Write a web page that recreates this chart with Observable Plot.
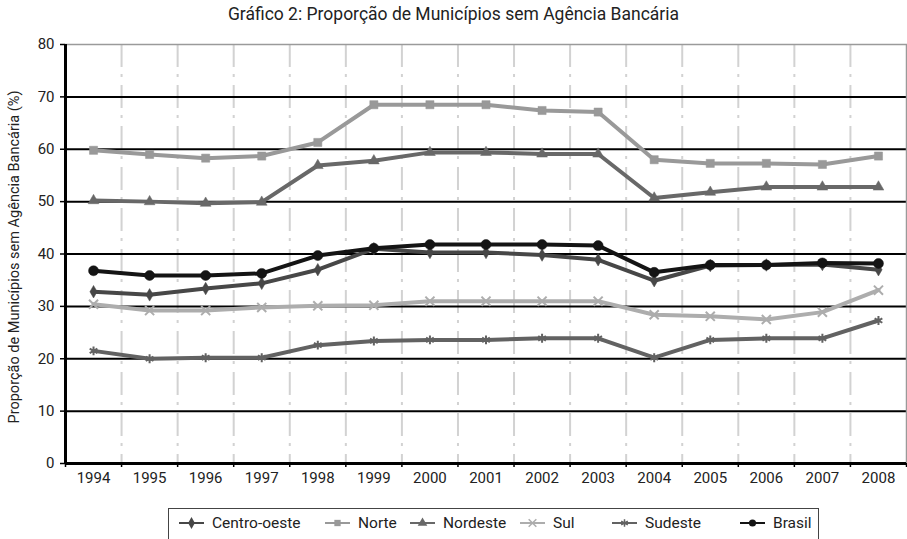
<!DOCTYPE html>
<html>
<head>
<meta charset="utf-8">
<script src="https://cdn.jsdelivr.net/npm/d3@7"></script>
<script src="https://cdn.jsdelivr.net/npm/@observablehq/plot@0.6"></script>
<style>
  html, body { margin: 0; padding: 0; background: #fff; }
  body { width: 907px; height: 539px; position: relative; overflow: hidden; font-family: Roboto, "Liberation Sans", sans-serif; color: #222; }
  #chart { position: absolute; left: 0; top: 0; z-index: 0; }
  #title { position: absolute; left: 0; top: 4px; width: 907px; text-align: center; font-size: 17.5px; color: #222; z-index: 2; }
  #ylabel { position: absolute; left: 14px; top: 257px; transform: translate(-50%, -50%) rotate(-90deg); white-space: nowrap; font-size: 14.5px; color: #222; z-index: 2; }
  #legend { position: absolute; left: 168px; top: 508px; width: 651px; height: 40px; border: 1.5px solid #444; border-bottom: none; box-sizing: border-box; z-index: 2; background: #fff; }
  .item { position: absolute; top: 5px; display: flex; align-items: center; font-size: 15.5px; color: #222; }
  .item svg { margin-right: 8px; }
</style>
</head>
<body>
<div id="chart"></div>
<div id="title">Gráfico 2: Proporção de Municípios sem Agência Bancária</div>
<div id="ylabel">Proporção de Municípios sem Agência Bancária (%)</div>
<div id="legend"></div>
<script>
const years = [1994, 1995, 1996, 1997, 1998, 1999, 2000, 2001, 2002, 2003, 2004, 2005, 2006, 2007, 2008];
const seriesNames = ["Centro-oeste", "Norte", "Nordeste", "Sul", "Sudeste", "Brasil"];
const centroOeste = [32.8, 32.2, 33.4, 34.4, 37.0, 41.0, 40.3, 40.3, 39.8, 38.9, 34.9, 37.8, 37.9, 38.0, 37.0];
const norte = [59.8, 59.0, 58.3, 58.7, 61.3, 68.5, 68.5, 68.5, 67.4, 67.1, 58.0, 57.3, 57.3, 57.1, 58.7];
const nordeste = [50.2, 50.0, 49.7, 49.9, 56.9, 57.8, 59.4, 59.4, 59.1, 59.1, 50.7, 51.8, 52.8, 52.8, 52.8];
const sul = [30.4, 29.2, 29.2, 29.8, 30.1, 30.2, 31.0, 31.0, 31.0, 31.0, 28.4, 28.1, 27.5, 28.9, 33.1];
const sudeste = [21.5, 20.0, 20.2, 20.2, 22.6, 23.4, 23.6, 23.6, 23.9, 23.9, 20.2, 23.6, 23.9, 23.9, 27.3];
const brasil = [36.8, 35.9, 35.9, 36.3, 39.7, 41.1, 41.8, 41.8, 41.8, 41.6, 36.5, 37.9, 37.9, 38.3, 38.2];
const yTicks = [0, 10, 20, 30, 40, 50, 60, 70, 80];

// styles
const seriesValues = [centroOeste, norte, nordeste, sul, sudeste, brasil];
const colors = ["#474747", "#999999", "#686868", "#adadad", "#626262", "#141414"];
const symbols = ["diamond", "square", "triangle", "times", "asterisk", "circle"];
const d3symbols = [d3.symbolDiamond, d3.symbolSquare, d3.symbolTriangle, d3.symbolTimes, d3.symbolAsterisk, d3.symbolCircle];
const radii = [3.8, 4.6, 4, 4.2, 4.2, 5];
const legendLeft = [10, 156, 241, 351, 443, 571];

const bounds = years.slice(0, -1).map(y => y + 0.5);
const allBounds = [years[0] - 0.5, ...bounds, years[years.length - 1] + 0.5];

const marks = [
  Plot.ruleX(bounds, {stroke: "#d2d2d2", strokeWidth: 2, strokeDasharray: "23,7,3,8"}),
  Plot.ruleY(yTicks.filter(t => t > 0 && t < 80), {stroke: "#000", strokeWidth: 2}),
  Plot.frame({stroke: "#9a9a9a", strokeWidth: 1.5}),
  Plot.axisY(yTicks, {tickSize: 5, tickPadding: 6, fontSize: 15, label: null, stroke: "#000", strokeWidth: 1.5, tickFormat: d => String(d)}),
  Plot.axisX(allBounds, {tickSize: 4, tickFormat: () => "", label: null, stroke: "#000", strokeWidth: 1.5}),
  Plot.axisX(years, {tickSize: 0, tickPadding: 9, fontSize: 15, label: null, tickFormat: d => String(d)}),
  Plot.ruleY([0], {stroke: "#000", strokeWidth: 3}),
  Plot.ruleX([years[0] - 0.5], {stroke: "#000", strokeWidth: 3})
];

seriesNames.forEach((name, i) => {
  const data = years.map((y, j) => ({year: y, value: seriesValues[i][j]}));
  marks.push(Plot.line(data, {x: "year", y: "value", stroke: colors[i], strokeWidth: 4, strokeLinejoin: "round"}));
  marks.push(Plot.dot(data, {x: "year", y: "value", symbol: symbols[i], r: radii[i],
    fill: (symbols[i] === "times" || symbols[i] === "asterisk") ? "none" : colors[i],
    stroke: colors[i], strokeWidth: (symbols[i] === "times" || symbols[i] === "asterisk") ? 2 : 0.5}));
});

const chart = Plot.plot({
  width: 907,
  height: 539,
  marginTop: 44,
  marginBottom: 76,
  marginLeft: 65,
  marginRight: 1,
  style: {fontFamily: "Roboto, 'Liberation Sans', sans-serif", color: "#222", background: "transparent"},
  x: {type: "linear", domain: [years[0] - 0.5, years[years.length - 1] + 0.5]},
  y: {domain: [0, 80]},
  marks
});
document.getElementById("chart").appendChild(chart);

// legend
const legend = d3.select("#legend");
seriesNames.forEach((name, i) => {
  const item = legend.append("div").attr("class", "item").style("left", legendLeft[i] + "px");
  const svg = item.append("svg").attr("width", 25).attr("height", 16);
  svg.append("line").attr("x1", 0).attr("x2", 25).attr("y1", 8).attr("y2", 8)
    .attr("stroke", colors[i]).attr("stroke-width", 2);
  const isLine = symbols[i] === "times" || symbols[i] === "asterisk";
  svg.append("path").attr("transform", "translate(12.5,8)")
    .attr("d", d3.symbol(d3symbols[i], 40)())
    .attr("fill", isLine ? "none" : colors[i])
    .attr("stroke", colors[i]).attr("stroke-width", isLine ? 1.5 : 0);
  item.append("span").text(name);
});
</script>
</body>
</html>
